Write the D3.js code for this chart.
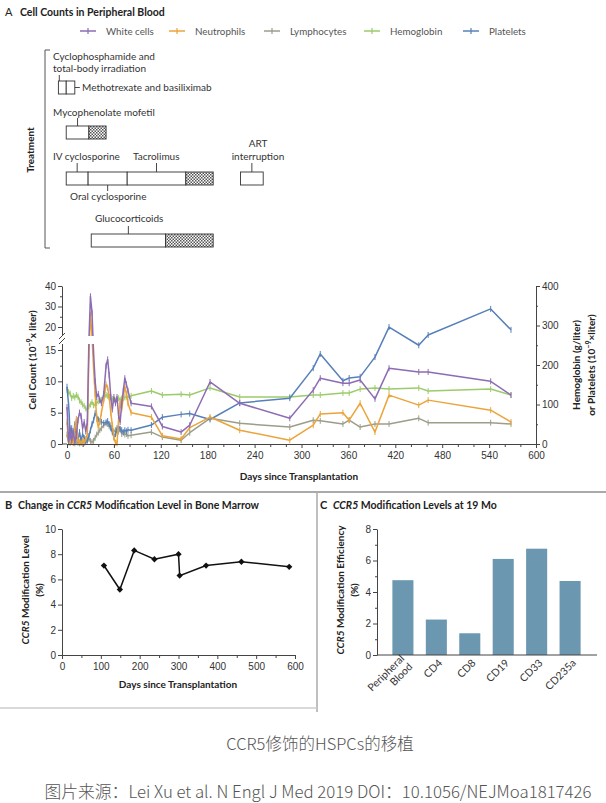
<!DOCTYPE html>
<html>
<head>
<meta charset="utf-8">
<script src="https://cdn.jsdelivr.net/npm/d3@7"></script>
<style>
  body { margin: 0; background: #fff; }
  svg { display: block; font-family: Lato, "Open Sans", sans-serif; }
  .tick text { fill: #333; }
  .tick line, .domain { stroke: #444; }
</style>
</head>
<body>
<script>
// ---- panel A: cell counts (day, value)
const whiteCells = [[0,5.9],[2,0.3],[4,2.5],[6,0.5],[8,2.0],[10,0.3],[12,1.5],[14,3.8],[16,5.0],[18,4.5],[20,2.5],[22,3.5],[24,2.0],[26,3.5],[28,17],[30,35],[32,27],[34,14.5],[36,10],[38,7.5],[40,8.0],[42,7.0],[44,6.5],[47,8],[50,12.5],[52,13.5],[54,11],[56,7.5],[58,5.5],[60,7.5],[62,6.5],[64,7.5],[66,4.5],[68,3.5],[70,6.5],[72,8.5],[74,10.5],[76,9.5],[78,8.5],[82,6.5],[108,6.0],[122,2.8],[146,1.9],[157,3.0],[183,9.9],[221,6.5],[285,4.1],[315,8.6],[324,10.5],[353,9.7],[361,9.7],[375,10.2],[394,7.2],[412,12.1],[450,11.5],[462,11.5],[542,10.0],[568,7.8]];
const neutrophils = [[0,3.5],[2,0.3],[4,0.2],[6,1.0],[8,0.2],[10,2.5],[12,4.0],[14,0.5],[16,0.3],[18,0.2],[20,0.5],[22,0.3],[24,0.8],[26,1.5],[28,14],[30,26],[32,18],[34,12],[36,8],[38,4],[40,2.7],[42,3.5],[44,5],[47,7],[50,9.5],[52,9],[54,7.5],[56,5],[58,3],[60,1],[62,0.2],[64,0.1],[66,4],[68,6.7],[70,5.5],[72,7.5],[74,9.1],[76,8],[78,6.5],[82,5],[108,4.3],[122,1.3],[146,0.8],[157,2.6],[183,4.3],[221,2.2],[285,0.6],[315,3.0],[324,4.8],[353,5.0],[361,3.8],[375,6.5],[394,1.9],[412,7.8],[450,6.2],[462,7.0],[542,5.4],[568,3.5]];
const lymphocytes = [[0,1.5],[2,0.3],[4,0.2],[6,0.5],[8,0.2],[10,0.1],[12,0.3],[14,0.2],[16,0.1],[18,0.2],[20,0.3],[22,0.2],[24,0.3],[26,0.5],[28,0.8],[30,0.5],[32,0.3],[34,0.5],[36,1.0],[38,1.5],[40,1.8],[42,2.2],[44,2.5],[47,3.0],[50,3.3],[52,3.2],[54,2.8],[56,3.0],[58,2.4],[60,2.0],[62,2.2],[64,1.8],[66,2.0],[68,2.3],[70,1.6],[72,1.8],[74,1.5],[76,1.6],[78,1.3],[82,1.4],[108,1.9],[122,1.1],[146,0.6],[157,1.8],[183,4.1],[221,3.3],[285,2.7],[315,3.8],[324,3.7],[353,3.2],[361,3.8],[375,2.7],[394,3.2],[412,3.2],[450,4.1],[462,3.4],[542,3.4],[568,3.2]];
// hemoglobin (g/liter) and platelets, right axis
const hemoglobin = [[0,137],[2,132],[4,128],[6,116],[8,122],[10,118],[12,124],[14,120],[16,110],[18,106],[20,100],[22,96],[24,90],[26,86],[28,96],[30,100],[32,106],[34,98],[36,100],[38,104],[40,108],[42,110],[44,112],[47,116],[50,124],[52,122],[54,118],[56,116],[58,114],[60,112],[62,110],[64,114],[66,116],[68,112],[70,115],[72,116],[74,118],[76,120],[78,118],[82,122],[108,134],[122,124],[146,126],[157,124],[183,142],[221,119],[285,119],[315,124],[324,124],[353,129],[361,129],[375,139],[394,142],[412,139],[450,142],[462,134],[542,139],[568,124]];
const platelets = [[0,145],[2,100],[3,68],[4,5],[6,40],[8,15],[10,50],[12,20],[14,10],[16,30],[18,8],[20,25],[22,15],[24,5],[26,10],[28,20],[30,35],[32,50],[34,60],[36,78],[38,70],[40,62],[42,58],[44,56],[47,53],[50,55],[52,58],[54,50],[56,40],[58,30],[60,18],[62,25],[64,40],[66,45],[68,38],[70,35],[72,30],[74,35],[76,32],[78,36],[82,35],[108,48],[122,68],[146,75],[157,77],[183,62],[221,104],[285,116],[315,192],[324,228],[353,160],[361,167],[375,170],[394,220],[412,296],[450,250],[462,276],[542,342],[568,289]];
const seriesNames = ["White cells","Neutrophils","Lymphocytes","Hemoglobin","Platelets"];

// ---- panel A: treatment timeline (days)
const treatmentNames = ["Cyclophosphamide","Methotrexate","Mycophenolate mofetil","IV cyclosporine","Oral cyclosporine","Tacrolimus","ART interruption","Glucocorticoids"];
const treatmentStart = [-11,-1,-1,-1,27,77,222,31];
const treatmentEnd = [-1,10,28,27,77,152,251,126];
const taperEnd = [null,null,50,null,null,187,null,187];
const treatmentRow = [0,0,1,2,2,2,2,3];

// ---- panel B
const bmDays = [108,149,186,238,300,303,371,462,585];
const bmLevel = [7.1,5.2,8.3,7.6,8.0,6.3,7.1,7.4,7.0];

// ---- panel C
const cellTypes = ["Peripheral Blood","CD4","CD8","CD19","CD33","CD235a"];
const modEfficiency = [4.75,2.25,1.38,6.1,6.75,4.7];

const W = 606, H = 803;
const svg = d3.select("body").append("svg").attr("width", W).attr("height", H);
svg.append("rect").attr("width", W).attr("height", H).attr("fill", "#fff");

const pat = svg.append("defs").append("pattern")
  .attr("id", "checks").attr("width", 3).attr("height", 3)
  .attr("patternUnits", "userSpaceOnUse");
pat.append("rect").attr("width", 3).attr("height", 3).attr("fill", "#fff");
pat.append("rect").attr("width", 1.5).attr("height", 1.5).attr("fill", "#555");
pat.append("rect").attr("x", 1.5).attr("y", 1.5).attr("width", 1.5).attr("height", 1.5).attr("fill", "#555");

// rich text helper: parts = [[text, kind]] kind: "i" italic, "sup" superscript
function rich(sel, parts) {
  parts.forEach(([t, k]) => {
    const ts = sel.append("tspan").text(t);
    if (k === "i") ts.attr("font-style", "italic");
    if (k === "sup") ts.attr("baseline-shift", "super").attr("font-size", "0.7em");
  });
  return sel;
}

// ===== Panel A header
svg.append("text").attr("x", 5).attr("y", 16).attr("font-size", 11).attr("fill", "#222").text("A");
svg.append("text").attr("x", 20).attr("y", 16).attr("font-size", 10.5).attr("font-weight", 700)
  .attr("fill", "#222").text("Cell Counts in Peripheral Blood");

const color = d3.scaleOrdinal().domain(seriesNames)
  .range(["#8c6cb3", "#eba43a", "#9c9e8a", "#9ccb6b", "#5780b8"]);

const legendX = [80, 169, 264, 364, 463];
const leg = svg.append("g").selectAll("g").data(seriesNames).join("g")
  .attr("transform", (d, i) => `translate(${legendX[i]},31)`);
leg.append("line").attr("x1", 0).attr("x2", 16).attr("stroke", color).attr("stroke-width", 1.5);
leg.append("line").attr("x1", 8).attr("x2", 8).attr("y1", -3).attr("y2", 3).attr("stroke", color).attr("stroke-width", 1.2);
leg.append("text").attr("x", 26).attr("y", 3.5).attr("font-size", 9.8).attr("fill", "#555").text(d => d);

// ===== Treatment timeline
const x = d3.scaleLinear().domain([0, 600]).range([67, 536]);
const rowTop = [81, 126, 172, 234];
const boxH = 13;

svg.append("text").attr("transform", "translate(34,150) rotate(-90)")
  .attr("text-anchor", "middle").attr("font-size", 10).attr("font-weight", 700).attr("fill", "#222")
  .text("Treatment");
svg.append("path").attr("d", "M50,50H45V248H50").attr("fill", "none").attr("stroke", "#555").attr("stroke-width", 1);

const tg = svg.append("g");
treatmentNames.forEach((n, i) => {
  const y0 = rowTop[treatmentRow[i]];
  tg.append("rect").attr("x", x(treatmentStart[i])).attr("y", y0)
    .attr("width", x(treatmentEnd[i]) - x(treatmentStart[i])).attr("height", boxH)
    .attr("fill", "#fff").attr("stroke", "#333").attr("stroke-width", 0.9);
  if (taperEnd[i] != null) {
    tg.append("rect").attr("x", x(treatmentEnd[i])).attr("y", y0)
      .attr("width", x(taperEnd[i]) - x(treatmentEnd[i])).attr("height", boxH)
      .attr("fill", "url(#checks)").attr("stroke", "#333").attr("stroke-width", 0.9);
  }
});
const mid = i => (x(treatmentStart[i]) + x(treatmentEnd[i])) / 2;
function callout(x1, y1, x2, y2) {
  tg.append("line").attr("x1", x1).attr("y1", y1).attr("x2", x2).attr("y2", y2).attr("stroke", "#333").attr("stroke-width", 0.9);
}
function label(tx, ty, t, anchor) {
  tg.append("text").attr("x", tx).attr("y", ty).attr("font-size", 10).attr("fill", "#333")
    .attr("text-anchor", anchor || "start").text(t);
}
label(53, 60, "Cyclophosphamide and");
label(53, 72, "total-body irradiation");
callout(mid(0) - 3, 75, mid(0) - 3, rowTop[0]);
callout(x(treatmentEnd[1]), rowTop[0] + boxH / 2, x(treatmentEnd[1]) + 5, rowTop[0] + boxH / 2);
label(82, 90.5, "Methotrexate and basiliximab");
label(53, 116, "Mycophenolate mofetil");
callout(mid(2), 118, mid(2), rowTop[1]);
label(53, 160, "IV cyclosporine");
callout(mid(3), 163, mid(3), rowTop[2]);
label(133, 160, "Tacrolimus");
callout(mid(5), 163, mid(5), rowTop[2]);
label(258, 147, "ART", "middle");
label(258, 160, "interruption", "middle");
callout(mid(6), 163, mid(6), rowTop[2]);
callout(mid(4), rowTop[2] + boxH, mid(4), rowTop[2] + boxH + 6);
label(70, 200, "Oral cyclosporine");
label(95, 222, "Glucocorticoids");
callout(mid(7), 226, mid(7), rowTop[3]);

// ===== Cell count chart
const yL = d3.scaleLinear().domain([0, 15, 20, 40]).range([444, 350, 327, 286]);
const yR = d3.scaleLinear().domain([0, 400]).range([444, 286]);
const series = [
  { name: "Lymphocytes", data: lymphocytes, y: yL },
  { name: "Hemoglobin", data: hemoglobin, y: yR },
  { name: "Platelets", data: platelets, y: yR },
  { name: "Neutrophils", data: neutrophils, y: yL },
  { name: "White cells", data: whiteCells, y: yL }
];
const lg = svg.append("g");
series.forEach(s => {
  const line = d3.line().x(d => x(d[0])).y(d => s.y(d[1]));
  lg.append("path").datum(s.data).attr("d", line).attr("fill", "none")
    .attr("stroke", color(s.name)).attr("stroke-width", 1.5).attr("stroke-linejoin", "round");
  lg.selectAll(null).data(s.data).join("line")
    .attr("x1", d => x(d[0])).attr("x2", d => x(d[0]))
    .attr("y1", d => s.y(d[1]) - 3).attr("y2", d => s.y(d[1]) + 3)
    .attr("stroke", color(s.name)).attr("stroke-width", 1);
});

const fs = 9.5;
const gL = svg.append("g").attr("transform", "translate(62,0)").attr("font-size", fs);
gL.call(d3.axisLeft(yL).tickValues([0, 5, 10, 15, 20, 30, 40]).tickSize(4).tickSizeOuter(0).tickPadding(2));
gL.append("g").call(d3.axisLeft(yL).tickValues([2.5, 7.5, 12.5, 25, 35]).tickSize(2).tickFormat(""))
  .select(".domain").remove();
// axis break
svg.append("rect").attr("x", 55).attr("y", 336).attr("width", 42).attr("height", 8).attr("fill", "#fff");
svg.append("path").attr("d", "M59,339L65,333M59,344L65,338").attr("stroke", "#444").attr("stroke-width", 1);

const gB = svg.append("g").attr("transform", "translate(0,444)").attr("font-size", fs);
gB.call(d3.axisBottom(x).tickValues(d3.range(0, 601, 60)).tickSize(4).tickSizeOuter(0).tickPadding(4));
gB.append("g").call(d3.axisBottom(x).tickValues(d3.range(0, 601, 20).filter(v => v % 60)).tickSize(3).tickFormat(""))
  .select(".domain").remove();
gB.append("line").attr("x1", 62).attr("x2", 67).attr("stroke", "#444");

const gR = svg.append("g").attr("transform", "translate(536,0)").attr("font-size", fs);
gR.call(d3.axisRight(yR).tickValues([0, 100, 200, 300, 400]).tickSize(4).tickSizeOuter(0).tickPadding(2));
gR.append("g").call(d3.axisRight(yR).tickValues([50, 150, 250, 350]).tickSize(2).tickFormat(""))
  .select(".domain").remove();

rich(svg.append("text").attr("transform", "translate(36,360) rotate(-90)").attr("text-anchor", "middle")
  .attr("font-size", 10).attr("font-weight", 700).attr("fill", "#222"),
  [["Cell Count (10"], ["\u22129", "sup"], ["x liter)"]]);
svg.append("text").attr("transform", "translate(580,365) rotate(-90)").attr("text-anchor", "middle")
  .attr("font-size", 10).attr("font-weight", 700).attr("fill", "#222").text("Hemoglobin (g/liter)");
rich(svg.append("text").attr("transform", "translate(595,365) rotate(-90)").attr("text-anchor", "middle")
  .attr("font-size", 10).attr("font-weight", 700).attr("fill", "#222"),
  [["or Platelets (10"], ["\u22129", "sup"], ["\u00d7liter)"]]);
svg.append("text").attr("x", 299).attr("y", 480).attr("text-anchor", "middle")
  .attr("font-size", 10).attr("font-weight", 700).attr("fill", "#222").text("Days since Transplantation");

// ===== separators
svg.append("line").attr("x1", 0).attr("x2", W).attr("y1", 492).attr("y2", 492).attr("stroke", "#aaa").attr("stroke-width", 2);
svg.append("line").attr("x1", 317).attr("x2", 317).attr("y1", 492).attr("y2", 712).attr("stroke", "#aaa").attr("stroke-width", 1.5);
svg.append("line").attr("x1", 0).attr("x2", 317).attr("y1", 708).attr("y2", 708).attr("stroke", "#ccc").attr("stroke-width", 1.5);

// ===== Panel B
svg.append("text").attr("x", 5).attr("y", 509).attr("font-size", 11).attr("font-weight", 700).attr("fill", "#222").text("B");
rich(svg.append("text").attr("x", 18).attr("y", 509).attr("font-size", 10.5).attr("font-weight", 700).attr("fill", "#222"),
  [["Change in "], ["CCR5", "i"], [" Modification Level in Bone Marrow"]]);
const xB = d3.scaleLinear().domain([0, 600]).range([62, 295]);
const yB = d3.scaleLinear().domain([0, 10]).range([655, 529]);
const bAxL = svg.append("g").attr("transform", "translate(62,0)").attr("font-size", fs);
bAxL.call(d3.axisLeft(yB).tickValues(d3.range(0, 11, 2)).tickSize(4).tickSizeOuter(0).tickPadding(2));
const bAxB = svg.append("g").attr("transform", "translate(0,655)").attr("font-size", fs);
bAxB.call(d3.axisBottom(xB).tickValues(d3.range(0, 601, 100)).tickSize(4).tickSizeOuter(0).tickPadding(4));
bAxB.append("g").call(d3.axisBottom(xB).tickValues(d3.range(50, 600, 100)).tickSize(3).tickFormat(""))
  .select(".domain").remove();
const bPts = bmDays.map((d, i) => [d, bmLevel[i]]);
svg.append("path").datum(bPts).attr("d", d3.line().x(d => xB(d[0])).y(d => yB(d[1])))
  .attr("fill", "none").attr("stroke", "#111").attr("stroke-width", 1.5);
svg.append("g").selectAll("path").data(bPts).join("path")
  .attr("transform", d => `translate(${xB(d[0])},${yB(d[1])}) rotate(45)`)
  .attr("d", d3.symbol(d3.symbolSquare, 20)).attr("fill", "#111");
const bLab = svg.append("g").attr("font-size", 10).attr("font-weight", 700).attr("fill", "#222").attr("text-anchor", "middle");
rich(bLab.append("text").attr("transform", "translate(29,590) rotate(-90)"), [["CCR5", "i"], [" Modification Level"]]);
bLab.append("text").attr("transform", "translate(43,590) rotate(-90)").text("(%)");
bLab.append("text").attr("x", 178).attr("y", 688).text("Days since Transplantation");

// ===== Panel C
svg.append("text").attr("x", 320).attr("y", 509).attr("font-size", 11).attr("font-weight", 700).attr("fill", "#222").text("C");
rich(svg.append("text").attr("x", 333).attr("y", 509).attr("font-size", 10.5).attr("font-weight", 700).attr("fill", "#222"),
  [["CCR5", "i"], [" Modification Levels at 19 Mo"]]);
const xC = d3.scaleBand().domain(cellTypes).range([377, 596]).paddingInner(0.37).paddingOuter(0.46);
const yC = d3.scaleLinear().domain([0, 8]).range([655, 529]);
svg.append("g").selectAll("rect").data(cellTypes).join("rect")
  .attr("x", d => xC(d)).attr("width", xC.bandwidth())
  .attr("y", (d, i) => yC(modEfficiency[i])).attr("height", (d, i) => 655 - yC(modEfficiency[i]))
  .attr("fill", "#6b98b0");
const cAxL = svg.append("g").attr("transform", "translate(377,0)").attr("font-size", fs);
cAxL.call(d3.axisLeft(yC).tickValues(d3.range(0, 9, 2)).tickSize(4).tickSizeOuter(0).tickPadding(2));
cAxL.append("g").call(d3.axisLeft(yC).tickValues([1, 3, 5, 7]).tickSize(2).tickFormat("")).select(".domain").remove();
svg.append("line").attr("x1", 377).attr("x2", 597).attr("y1", 655).attr("y2", 655).attr("stroke", "#444");
const cTicks = svg.append("g").selectAll("text").data(cellTypes).join("text")
  .attr("transform", d => `translate(${xC(d) + xC.bandwidth() / 2 + 4},${661}) rotate(-45)`)
  .attr("text-anchor", "end").attr("font-size", 10.5).attr("fill", "#333");
cTicks.each(function (d) {
  const parts = d.split(" ");
  const t = d3.select(this);
  if (parts.length === 1) t.append("tspan").attr("dy", "0.35em").text(d);
  else {
    t.append("tspan").attr("x", 0).attr("dy", "-0.25em").text(parts[0]);
    t.append("tspan").attr("x", 0).attr("dy", "1.1em").text(parts[1]);
  }
});
const cLab = svg.append("g").attr("font-size", 10).attr("font-weight", 700).attr("fill", "#222").attr("text-anchor", "middle");
rich(cLab.append("text").attr("transform", "translate(344,590) rotate(-90)"), [["CCR5", "i"], [" Modification Efficiency"]]);
cLab.append("text").attr("transform", "translate(358,590) rotate(-90)").text("(%)");

// ===== caption
svg.append("text").attr("x", 320).attr("y", 750).attr("text-anchor", "middle")
  .attr("font-family", "'Noto Sans CJK SC', sans-serif").attr("font-size", 16.5).attr("font-weight", 300).attr("fill", "#555")
  .text("CCR5修饰的HSPCs的移植");
svg.append("text").attr("x", 318).attr("y", 798).attr("text-anchor", "middle")
  .attr("font-family", "'Noto Sans CJK SC', sans-serif").attr("font-size", 16.8).attr("font-weight", 300).attr("fill", "#555")
  .text("图片来源：Lei Xu et al. N Engl J Med 2019 DOI：10.1056/NEJMoa1817426");
</script>
</body>
</html>
